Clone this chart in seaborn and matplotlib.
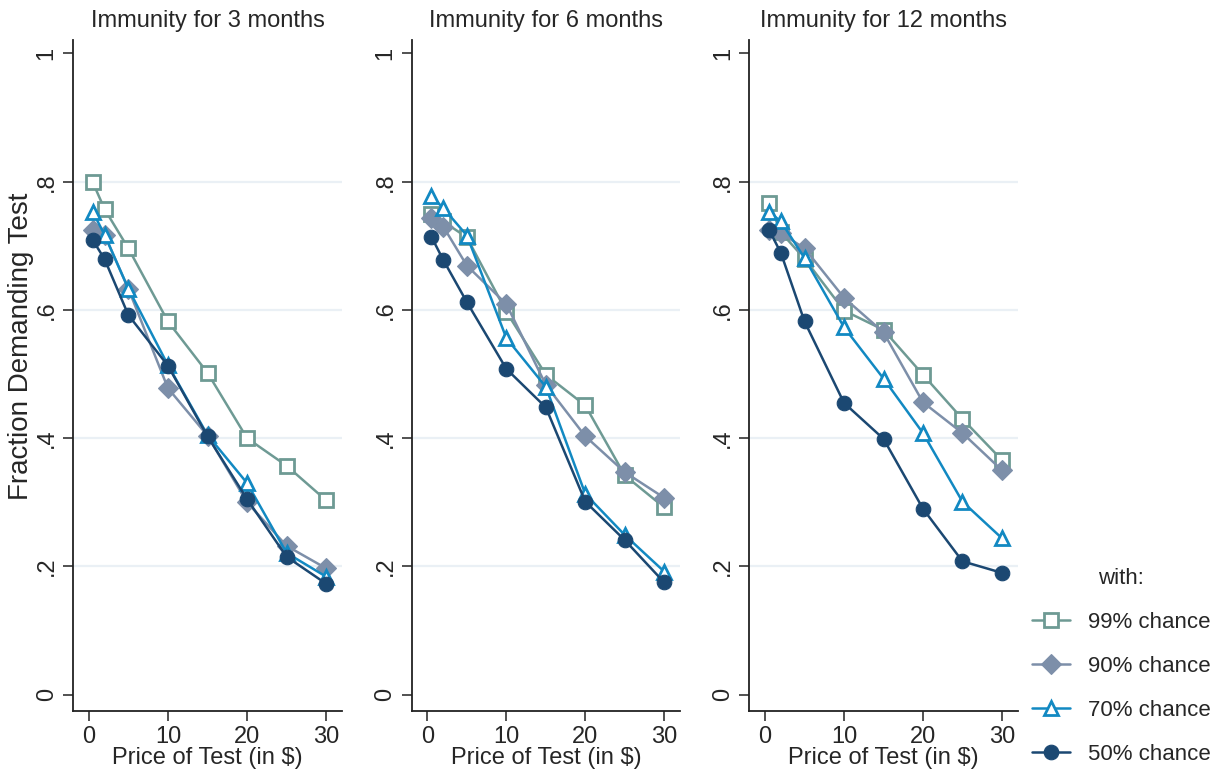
import matplotlib
matplotlib.use("Agg")
import matplotlib.pyplot as plt
import seaborn as sns
import pandas as pd
from matplotlib.lines import Line2D

# ---- data ----
prices = [0.5, 2, 5, 10, 15, 20, 25, 30]
panel_titles = ["Immunity for 3 months", "Immunity for 6 months", "Immunity for 12 months"]
series_labels = ["99% chance", "90% chance", "70% chance", "50% chance"]

m3_99 = [0.799, 0.757, 0.696, 0.582, 0.502, 0.400, 0.357, 0.303]
m3_90 = [0.724, 0.717, 0.633, 0.478, 0.404, 0.300, 0.232, 0.197]
m3_70 = [0.753, 0.717, 0.633, 0.514, 0.405, 0.330, 0.221, 0.184]
m3_50 = [0.709, 0.679, 0.592, 0.513, 0.403, 0.305, 0.215, 0.173]

m6_99 = [0.750, 0.738, 0.713, 0.597, 0.499, 0.451, 0.342, 0.292]
m6_90 = [0.743, 0.730, 0.669, 0.609, 0.483, 0.403, 0.347, 0.307]
m6_70 = [0.777, 0.759, 0.716, 0.556, 0.480, 0.313, 0.249, 0.192]
m6_50 = [0.714, 0.678, 0.612, 0.508, 0.448, 0.301, 0.241, 0.175]

m12_99 = [0.767, 0.721, 0.680, 0.599, 0.569, 0.499, 0.430, 0.366]
m12_90 = [0.725, 0.720, 0.696, 0.619, 0.565, 0.456, 0.408, 0.350]
m12_70 = [0.753, 0.738, 0.681, 0.573, 0.493, 0.408, 0.301, 0.244]
m12_50 = [0.725, 0.689, 0.582, 0.455, 0.399, 0.290, 0.208, 0.190]

panels = [
    [m3_99, m3_90, m3_70, m3_50],
    [m6_99, m6_90, m6_70, m6_50],
    [m12_99, m12_90, m12_70, m12_50],
]

y_ticks = [0, 0.2, 0.4, 0.6, 0.8, 1.0]
y_ticklabels = ["0", ".2", ".4", ".6", ".8", "1"]
x_ticks = [0, 10, 20, 30]
x_label = "Price of Test (in $)"
y_label = "Fraction Demanding Test"
legend_title = "with:"

# ---- style ----
sns.set_style("white")
plt.rcParams["font.family"] = ["Liberation Sans", "DejaVu Sans"]

colors = ["#6e9a94", "#7d8fa9", "#1289c2", "#1b4872"]
markers = ["s", "D", "^", "o"]
mfcs = ["white", None, "white", None]
msizes = [9.5, 10.5, 10, 10.5]
FS = 17

fig = plt.figure(figsize=(12.26, 7.78), dpi=100)
W, H = 1226, 778
lefts = [73, 411.7, 749.3]
rights = [342, 680, 1017.7]
top_px, bot_px = 40, 710.7

for i, (title, series) in enumerate(zip(panel_titles, panels)):
    ax = fig.add_axes([lefts[i] / W, 1 - bot_px / H,
                       (rights[i] - lefts[i]) / W, (bot_px - top_px) / H])
    for g in [0.2, 0.4, 0.6, 0.8]:
        ax.axhline(g, color="#eaf0f5", lw=1.6, zorder=0)
    for vals, lab, c, mk, mf, ms in zip(series, series_labels, colors, markers, mfcs, msizes):
        df = pd.DataFrame({"price": prices, "frac": vals})
        kw = dict(marker=mk, markersize=ms, markeredgecolor=c, markeredgewidth=2.0 if mf else 0.8)
        kw["markerfacecolor"] = mf if mf else c
        sns.lineplot(data=df, x="price", y="frac", ax=ax, color=c, lw=1.8, **kw)
    ax.set_xlim(-2, 32)
    ax.set_ylim(-0.025, 1.021)
    ax.set_xticks(x_ticks)
    ax.set_yticks(y_ticks)
    ax.set_yticklabels(y_ticklabels, rotation=90, va="center")
    ax.tick_params(axis="both", labelsize=FS, length=7, width=1.2, color="#333333",
                   left=True, bottom=True, pad=4)
    for s in ["top", "right"]:
        ax.spines[s].set_visible(False)
    for s in ["left", "bottom"]:
        ax.spines[s].set_color("#222222")
        ax.spines[s].set_linewidth(1.3)
    ax.set_xlabel(x_label, fontsize=FS, labelpad=-1)
    ax.set_ylabel("")
    ax.set_title(title, fontsize=FS, pad=9)

fig.text(21 / W, 1 - 346 / H, y_label, rotation=90, ha="center", va="center", fontsize=20)

handles = []
for lab, c, mk, mf, ms in zip(series_labels, colors, markers, mfcs, msizes):
    handles.append(Line2D([0], [0], color=c, lw=1.8, marker=mk, markersize=ms,
                          markeredgecolor=c, markerfacecolor=(mf if mf else c),
                          markeredgewidth=2.0 if mf else 0.8))
leg = fig.legend(handles=handles, labels=series_labels, title=legend_title,
                 loc="upper left", bbox_to_anchor=(1012 / W, 1 - 548 / H),
                 frameon=False, fontsize=16, title_fontsize=16,
                 handlelength=1.7, labelspacing=1.03, handletextpad=0.8)

fig.savefig("out.png", dpi=100)
